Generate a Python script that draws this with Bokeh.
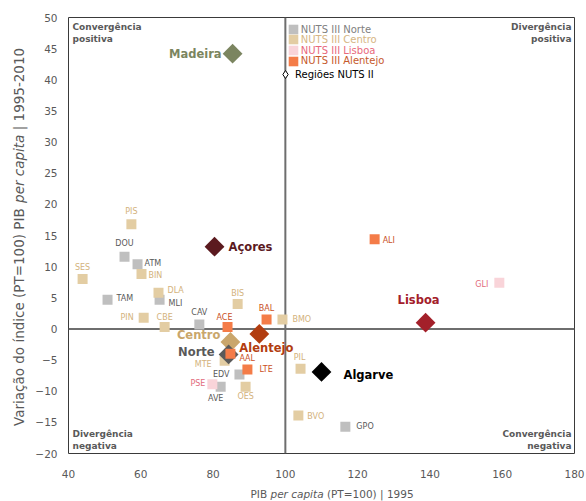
import math
from bokeh.plotting import figure
from bokeh.layouts import row, column
from bokeh.models import (Range1d, FixedTicker, Span, Label, Legend, LegendItem,
                          ColumnDataSource)
from bokeh.core.properties import value
from bokeh.embed import file_html
from bokeh.resources import INLINE

# ---------------- data ----------------
x_ticks = [40, 60, 80, 100, 120, 140, 160, 180]
y_ticks = [-20, -15, -10, -5, 0, 5, 10, 15, 20, 25, 30, 35, 40, 45, 50]

norte_codes = ["DOU", "ATM", "TAM", "MLI", "CAV", "EDV", "AVE", "GPO"]
norte_pib = [55.5, 59.1, 50.8, 65.2, 76.2, 87.3, 82.1, 116.6]
norte_var = [11.6, 10.4, 4.7, 4.7, 0.7, -7.3, -9.3, -15.7]

centro_codes = ["PIS", "SES", "BIN", "DLA", "PIN", "CBE", "BIS", "BMO", "MTE", "OES", "PIL", "BVO"]
centro_pib = [57.4, 43.9, 60.2, 64.9, 60.8, 66.6, 86.8, 99.2, 83.2, 89.0, 104.2, 103.6]
centro_var = [16.8, 8.0, 8.8, 5.8, 1.8, 0.3, 4.0, 1.5, -5.1, -9.3, -6.4, -13.9]

lisboa_codes = ["GLI", "PSE"]
lisboa_pib = [159.2, 79.8]
lisboa_var = [7.4, -8.9]

alentejo_codes = ["ALI", "ACE", "BAL", "AAL", "LTE"]
alentejo_pib = [124.7, 84.0, 94.8, 84.8, 89.5]
alentejo_var = [14.4, 0.3, 1.5, -4.0, -6.5]

nuts2_names = ["Madeira", "Açores", "Lisboa", "Alentejo", "Centro", "Norte", "Algarve"]
nuts2_pib = [85.4, 80.4, 138.8, 92.8, 84.8, 84.3, 110.0]
nuts2_var = [44.2, 13.2, 1.0, -0.8, -2.1, -4.1, -6.9]

# ---------------- styles / layout ----------------
FONT = "DejaVu Sans"
GREY = "#595959"

groups = [
    ("NUTS III Norte", norte_codes, norte_pib, norte_var, "#bfbfbf", "#595959", "#808080"),
    ("NUTS III Centro", centro_codes, centro_pib, centro_var, "#e3cda3", "#d3b27c", "#d6b684"),
    ("NUTS III Lisboa", lisboa_codes, lisboa_pib, lisboa_var, "#f9d4d9", "#e26b7c", "#e8697c"),
    ("NUTS III Alentejo", alentejo_codes, alentejo_pib, alentejo_var, "#f47c48", "#c9511f", "#c65a2c"),
]

nuts2_colors = ["#7b8560", "#5b1a1f", "#a3202a", "#b23d10", "#caa66c", "#5a5a5a", "#000000"]
nuts2_text_colors = ["#7b8560", "#5b1a1f", "#a3202a", "#b23d10", "#c9a66b", "#595959", "#000000"]

# label placement: (align, dx px, dy px; dy positive = down)
label_pos = {
    "DOU": ("center", 0, -13), "ATM": ("left", 7, -1), "TAM": ("left", 9, -1),
    "MLI": ("left", 9, 4), "CAV": ("center", 0, -12), "EDV": ("right", -10, 0),
    "AVE": ("center", -5, 12), "GPO": ("left", 11, 0),
    "PIS": ("center", 0, -13), "SES": ("center", 0, -12), "BIN": ("left", 7, 1),
    "DLA": ("left", 9, -2), "PIN": ("right", -10, 0), "CBE": ("center", 0, -10),
    "BIS": ("center", 0, -11), "BMO": ("left", 10, 0), "MTE": ("right", -13, 4),
    "OES": ("center", 0, 10), "PIL": ("center", -1, -11), "BVO": ("left", 9, 1),
    "GLI": ("right", -11, 2), "PSE": ("right", -7, -1),
    "ALI": ("left", 8, 1), "ACE": ("center", -3, -10), "BAL": ("center", 0, -11),
    "AAL": ("left", 9, 5), "LTE": ("left", 12, 0),
}
region_pos = {
    "Madeira": ("right", -11, 0), "Açores": ("left", 14, 0), "Lisboa": ("center", -7, -23),
    "Alentejo": ("left", -20, 14), "Centro": ("right", -10, -7), "Norte": ("right", -14, -2),
    "Algarve": ("left", 22, 3),
}

p = figure(width=558, height=483, x_range=Range1d(40, 180), y_range=Range1d(-20, 50),
           output_backend="svg", toolbar_location=None,
           min_border_left=40, min_border_right=12, min_border_top=17, min_border_bottom=30)
p.background_fill_color = "white"
p.border_fill_color = "white"
p.outline_line_color = "#3a3a3a"
p.outline_line_width = 1
p.xgrid.visible = False
p.ygrid.visible = False

for ax, ticks in ((p.xaxis, x_ticks), (p.yaxis, y_ticks)):
    ax.ticker = FixedTicker(ticks=ticks)
    ax.axis_line_color = None
    ax.major_tick_line_color = None
    ax.minor_tick_line_color = None
    ax.major_tick_out = 0
    ax.major_tick_in = 0
    ax.minor_tick_out = 0
    ax.major_label_text_font = FONT
    ax.major_label_text_font_size = "10.5px"
    ax.major_label_text_color = GREY
p.xaxis.major_label_standoff = 16
p.yaxis.major_label_standoff = 11

# reference lines
p.add_layout(Span(location=0, dimension="width", line_color="#6e6e6e", line_width=2, level="underlay"))
p.add_layout(Span(location=100, dimension="height", line_color="#6e6e6e", line_width=2, level="underlay"))

# legend proxies (zero-size, only used for legend swatches)
proxies = {}
for name, codes, xs, ys, sq, tc, lc in groups:
    proxies[name] = p.rect(xs, ys, width=0, height=0, fill_color=sq, line_color=None)
r_leg_diamond = p.scatter(nuts2_pib, nuts2_var, marker="diamond", size=0,
                          fill_color="white", line_color="black", line_width=1)

# markers
for name, codes, xs, ys, sq, tc, lc in groups[:3]:
    p.scatter(xs, ys, marker="square", size=10, fill_color=sq, line_color=None)
p.scatter(x="x", y="y", source=ColumnDataSource(dict(x=nuts2_pib, y=nuts2_var, c=nuts2_colors)),
          marker="square", angle=math.pi / 4, size=14, fill_color="c", line_color=None)
name, codes, xs, ys, sq, tc, lc = groups[3]
p.scatter(xs, ys, marker="square", size=10, fill_color=sq, line_color=None)

# point labels
def add_labels(names, xs, ys, colors, pos, size, bold):
    for align in ("left", "center", "right"):
        d = dict(x=[], y=[], t=[], c=[], dx=[], dy=[])
        for n, x, y, c in zip(names, xs, ys, colors):
            a, dx, dy = pos[n]
            if a != align:
                continue
            d["x"].append(x); d["y"].append(y); d["t"].append(n); d["c"].append(c)
            d["dx"].append(dx); d["dy"].append(dy)
        if d["x"]:
            p.text(x="x", y="y", text="t", source=ColumnDataSource(d), x_offset="dx", y_offset="dy",
                   text_align=align, text_baseline="middle", text_color="c",
                   text_font=value(FONT), text_font_size=size,
                   text_font_style="bold" if bold else "normal")

all_codes, all_x, all_y, all_c = [], [], [], []
for name, codes, xs, ys, sq, tc, lc in groups:
    all_codes += codes; all_x += xs; all_y += ys; all_c += [tc] * len(codes)
add_labels(all_codes, all_x, all_y, all_c, label_pos, "8px", False)
add_labels(nuts2_names, nuts2_pib, nuts2_var, nuts2_text_colors, region_pos, "11.5px", True)

# legend (one per row so each text keeps its colour)
rows_y = [418, 407.7, 397, 386.3]
for g, ly in zip(groups, rows_y):
    name, lc = g[0], g[6]
    leg = Legend(items=[LegendItem(label=name, renderers=[proxies[name]])], location=(218.8, ly),
                 padding=0, margin=0, spacing=0, glyph_width=12, glyph_height=12,
                 label_standoff=2, label_height=11, label_width=10,
                 label_text_font=FONT, label_text_font_size="10px", label_text_color=lc,
                 border_line_color=None, background_fill_alpha=0)
    p.add_layout(leg)
leg = Legend(items=[LegendItem(label="Regiões NUTS II", renderers=[r_leg_diamond])], location=(207, 369),
             padding=0, margin=0, spacing=0, glyph_width=20, glyph_height=20,
             label_standoff=0, label_height=11, label_width=10,
             label_text_font=FONT, label_text_font_size="10px", label_text_color="black",
             border_line_color=None, background_fill_alpha=0)
p.add_layout(leg)

# quadrant labels
FW, FH = 506, 436
quad = [("Convergência\npositiva", 4, FH - 4, "left", "top"),
        ("Divergência\npositiva", FW - 3, FH - 4, "right", "top"),
        ("Divergência\nnegativa", 4, 3, "left", "bottom"),
        ("Convergência\nnegativa", FW - 3, 3, "right", "bottom")]
for t, x, y, a, b in quad:
    p.add_layout(Label(x=x, y=y, x_units="screen", y_units="screen", text=t,
                       text_align=a, text_baseline=b, text_font=FONT, text_font_size="9px",
                       text_font_style="bold", text_color=GREY, text_line_height=1.2))

# axis titles in small companion canvases (mixed upright / italic text)
def blank(w, h):
    f = figure(width=w, height=h, x_range=Range1d(0, w), y_range=Range1d(0, h),
               output_backend="svg", toolbar_location=None, min_border=0,
               x_axis_type=None, y_axis_type=None)
    f.outline_line_color = None
    f.background_fill_color = "white"
    f.border_fill_color = "white"
    return f

xfig = blank(558, 18)
xt = [("PIB", 182.0, "normal"), ("per capita", 201.97, "italic"), ("(PT=100) | 1995", 258.43, "normal")]
for t, x, st in xt:
    xfig.add_layout(Label(x=x, y=8, x_units="screen", y_units="screen", text=t,
                          text_align="left", text_baseline="middle", text_font=FONT,
                          text_font_size="10.5px", text_font_style=st, text_color=GREY))

yfig = blank(28, 501)
yt = [("Variação do índice (PT=100) PIB", 75.5, "normal"), ("per capita", 298.6, "italic"),
      ("| 1995-2010", 371.2, "normal")]
for t, y, st in yt:
    yfig.add_layout(Label(x=18, y=y, x_units="screen", y_units="screen", text=t, angle=math.pi / 2,
                          text_align="left", text_baseline="middle", text_font=FONT,
                          text_font_size="13.5px", text_font_style=st, text_color=GREY))

layout = row(yfig, column(p, xfig, spacing=0), spacing=0)
open("out.html", "w").write(file_html(layout, INLINE))
